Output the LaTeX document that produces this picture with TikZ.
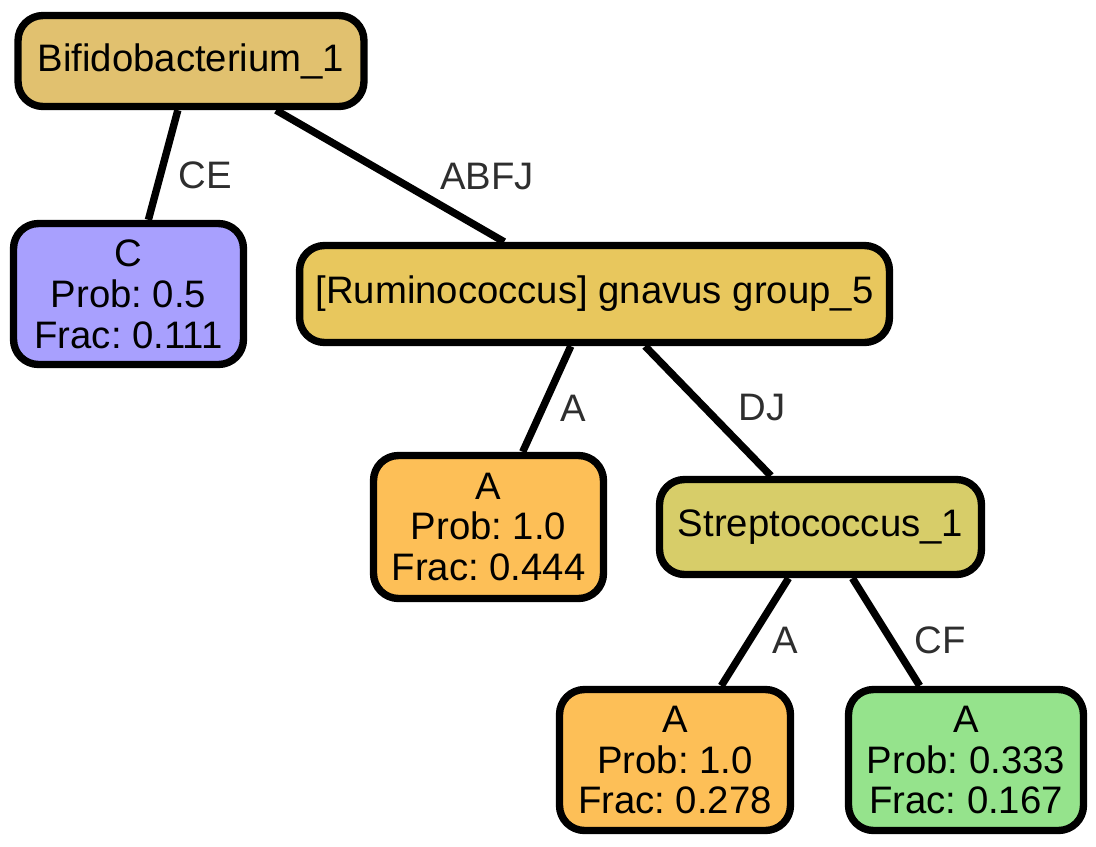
\documentclass[tikz,border=0pt]{standalone}
\usepackage{fontspec}
\setmainfont{Liberation Sans}
\frenchspacing
\usetikzlibrary{positioning}
\definecolor{bifido}{HTML}{E1C16F}
\definecolor{rumino}{HTML}{E8C75D}
\definecolor{strepto}{HTML}{D7CD69}
\definecolor{leafc}{HTML}{A8A0FE}
\definecolor{leafa}{HTML}{FDBF57}
\definecolor{leafg}{HTML}{95E38C}

\begin{document}
\begin{tikzpicture}[x=0.02cm,y=-0.02cm,
    box/.style={draw,line width=4.2pt,rounded corners=0.5cm,align=center,inner sep=2pt,font=\fontsize{21.8}{23.3}\selectfont},
    lbl/.style={text=black!82,font=\fontsize{21.8}{23.3}\selectfont}]
    \useasboundingbox (0,0) rectangle (1096,846);
    \node[box,fill=bifido,minimum width=6.92cm,minimum height=1.82cm] (bifido) at (191,61) {Bifidobacterium\_1};
    \node[box,fill=leafc,minimum width=4.6cm,minimum height=2.82cm] (c) at (128.5,294) {C\\Prob: 0.5\\Frac: 0.111};
    \node[box,fill=rumino,minimum width=11.8cm,minimum height=1.94cm] (rumino) at (594.5,294) {[Ruminococcus] gnavus group\_5};
    \node[box,fill=leafa,minimum width=4.6cm,minimum height=2.86cm] (a1) at (488.5,527) {A\\Prob: 1.0\\Frac: 0.444};
    \node[box,fill=strepto,minimum width=6.44cm,minimum height=1.9cm] (strepto) at (820.5,527) {Streptococcus\_1};
    \node[box,fill=leafa,minimum width=4.62cm,minimum height=2.82cm] (a2) at (675,760) {A\\Prob: 1.0\\Frac: 0.278};
    \node[box,fill=leafg,minimum width=4.7cm,minimum height=2.82cm] (a3) at (966,760) {A\\Prob: 0.333\\Frac: 0.167};
    \draw[line width=4.2pt] (bifido) -- (c);
    \draw[line width=4.2pt] (bifido) -- (rumino);
    \draw[line width=4.2pt] (rumino) -- (a1);
    \draw[line width=4.2pt] (rumino) -- (strepto);
    \draw[line width=4.2pt] (strepto) -- (a2);
    \draw[line width=4.2pt] (strepto) -- (a3);
    \node[lbl] (lce) at (205,175) {CE};
    \node[lbl] (labfj) at (487,177) {ABFJ};
    \node[lbl] (la1) at (573,408) {A};
    \node[lbl] (ldj) at (762,408) {DJ};
    \node[lbl] (la2) at (785,640) {A};
    \node[lbl] (lcf) at (940,640) {CF};
\end{tikzpicture}
\end{document}
